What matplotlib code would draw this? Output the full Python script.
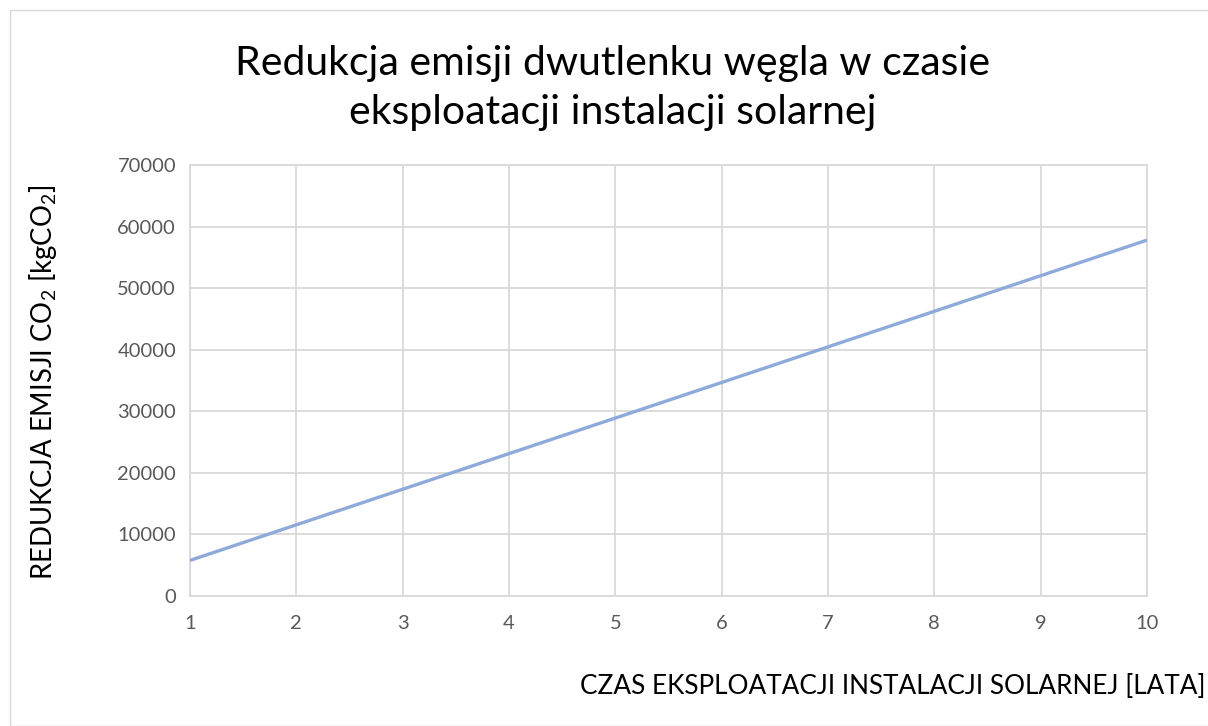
import matplotlib
matplotlib.use("Agg")
import matplotlib.pyplot as plt
from matplotlib.patches import Rectangle

years = [1, 2, 3, 4, 5, 6, 7, 8, 9, 10]
reduction = [5780, 11560, 17340, 23120, 28900, 34680, 40460, 46240, 52020, 57800]
y_ticks = [0, 10000, 20000, 30000, 40000, 50000, 60000, 70000]

title = "Redukcja emisji dwutlenku węgla w czasie\neksploatacji instalacji solarnej"
xlabel = "CZAS EKSPLOATACJI INSTALACJI SOLARNEJ [LATA]"
ylabel = r"REDUKCJA EMISJI CO$_2$ [kgCO$_2$]"

plt.rcParams['font.family'] = ['Lato', 'DejaVu Sans']
plt.rcParams['mathtext.fontset'] = 'custom'
plt.rcParams['mathtext.rm'] = 'Lato'
plt.rcParams['mathtext.it'] = 'Lato:italic'

W, H = 1208, 726
fig = plt.figure(figsize=(W / 100, H / 100), dpi=100)
fig.patches.append(Rectangle((10 / W, 0), 1.5, (H - 10) / H, transform=fig.transFigure,
                             fill=False, edgecolor='#d9d9d9', linewidth=1.0))

ax = fig.add_axes([190 / W, 1 - 596 / H, (1147 - 190) / W, (596 - 165) / H])
ax.plot(years, reduction, color='#8eaadb', linewidth=2.4, solid_capstyle='butt', zorder=3)
ax.set_xlim(1, 10)
ax.set_ylim(0, 70000)
ax.set_xticks(years)
ax.set_yticks(y_ticks)
ax.set_yticklabels([str(v) for v in y_ticks])
ax.grid(True, color='#d9d9d9', linewidth=1.3)
for s in ax.spines.values():
    s.set_color('#d9d9d9')
    s.set_linewidth(1.3)
ax.tick_params(axis='both', length=0, labelsize=14.5, colors='#595959')
ax.tick_params(axis='x', pad=14)
ax.tick_params(axis='y', pad=10)

fig.text(613 / W, 1 - 88 / H, title, ha='center', va='center', fontsize=29.5,
         color='black', linespacing=1.42)
fig.text(1 - 3 / W, 1 - 687 / H, xlabel, ha='right', va='center', fontsize=18.8, color='black')
fig.text(43 / W, 1 - 382 / H, ylabel, ha='center', va='center', rotation=90,
         fontsize=19.8, color='black')

fig.savefig("out.png", dpi=100, facecolor='white')
